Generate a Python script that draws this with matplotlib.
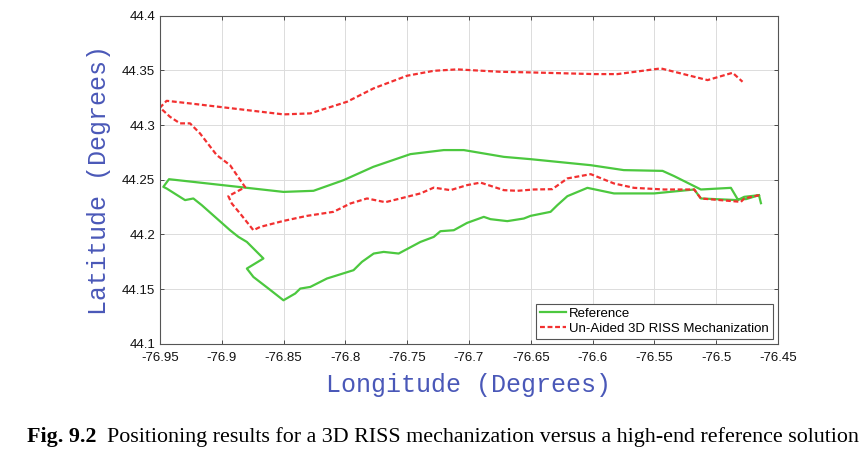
import numpy as np
import matplotlib
matplotlib.use("Agg")
import matplotlib.pyplot as plt
from matplotlib.ticker import FuncFormatter

plt.rcParams['font.family'] = ['Liberation Sans', 'DejaVu Sans']

# Reference trajectory (lon, lat)
ref_lon = [-76.4638, -76.4654, -76.4773, -76.4827, -76.5124, -76.5178, -76.5502, -76.5827,
           -76.6042, -76.6204, -76.6285, -76.6340, -76.6502, -76.6556, -76.6690, -76.6826,
           -76.6880, -76.7015, -76.7123, -76.7231, -76.7285, -76.7393, -76.7569, -76.7690,
           -76.7771, -76.7866, -76.7934, -76.8149, -76.8284, -76.8365, -76.8406, -76.8501,
           -76.8622, -76.8744, -76.8797, -76.8663, -76.8797, -76.8865, -76.8933, -76.9162,
           -76.9230, -76.9297, -76.9446, -76.9473, -76.9427, -76.8827, -76.8501, -76.8258,
           -76.8015, -76.7774, -76.7474, -76.7204, -76.7042, -76.6718, -76.6502, -76.6015,
           -76.5748, -76.5434, -76.5340, -76.5124, -76.4881, -76.4827, -76.4759, -76.4654]
ref_lat = [44.2286, 44.2359, 44.2344, 44.2314, 44.2329, 44.2411, 44.2375, 44.2375,
           44.2426, 44.2350, 44.2268, 44.2207, 44.2170, 44.2146, 44.2122, 44.2140,
           44.2161, 44.2106, 44.2039, 44.2030, 44.1978, 44.1932, 44.1826, 44.1841,
           44.1826, 44.1750, 44.1674, 44.1598, 44.1521, 44.1506, 44.1461, 44.1399,
           44.1506, 44.1612, 44.1689, 44.1781, 44.1932, 44.1978, 44.2039, 44.2268,
           44.2329, 44.2314, 44.2420, 44.2435, 44.2505, 44.2430, 44.2389, 44.2399,
           44.2496, 44.2618, 44.2734, 44.2771, 44.2771, 44.2709, 44.2688, 44.2633,
           44.2588, 44.2581, 44.2533, 44.2411, 44.2426, 44.2323, 44.2323, 44.2359]

# Un-aided 3D RISS solution (lon, lat)
riss_lon = [-76.4652, -76.4773, -76.4800, -76.5124, -76.5178, -76.5421, -76.5665, -76.5827,
            -76.6015, -76.6204, -76.6326, -76.6475, -76.6609, -76.6718, -76.6907, -76.7015,
            -76.7150, -76.7285, -76.7393, -76.7555, -76.7677, -76.7825, -76.7960, -76.8096,
            -76.8311, -76.8501, -76.8690, -76.8744, -76.8852, -76.8919, -76.8947, -76.8811,
            -76.8933, -76.9041, -76.9176, -76.9257, -76.9338, -76.9419, -76.9500, -76.9446,
            -76.9257, -76.8501, -76.8284, -76.7987, -76.7771, -76.7501, -76.7285, -76.7096,
            -76.6745, -76.6528, -76.5989, -76.5799, -76.5448, -76.5070, -76.4867, -76.4787]
riss_lat = [44.2359, 44.2329, 44.2298, 44.2329, 44.2411, 44.2411, 44.2426, 44.2466,
            44.2551, 44.2512, 44.2414, 44.2411, 44.2399, 44.2405, 44.2474, 44.2451,
            44.2405, 44.2428, 44.2375, 44.2329, 44.2295, 44.2329, 44.2283, 44.2207,
            44.2170, 44.2124, 44.2069, 44.2039, 44.2192, 44.2283, 44.2350, 44.2432,
            44.2633, 44.2725, 44.2923, 44.3015, 44.3015, 44.3075, 44.3159, 44.3221,
            44.3197, 44.3097, 44.3106, 44.3212, 44.3335, 44.3450, 44.3495, 44.3508,
            44.3486, 44.3481, 44.3465, 44.3465, 44.3517, 44.3410, 44.3477, 44.3395]

x_ticks = [-76.95, -76.9, -76.85, -76.8, -76.75, -76.7, -76.65, -76.6, -76.55, -76.5, -76.45]
y_ticks = [44.1, 44.15, 44.2, 44.25, 44.3, 44.35, 44.4]

fig = plt.figure(figsize=(8.61, 4.51), dpi=100)
ax = fig.add_axes([0.1858, 0.2373, 0.7178, 0.7283])

ax.plot(ref_lon, ref_lat, color="#4cc83f", lw=1.6, label="Reference")
ax.plot(riss_lon, riss_lat, color="#f23030", lw=1.6, ls=(0, (2.2, 1.2)),
        label="Un-Aided 3D RISS Mechanization")

ax.set_xlim(-76.95, -76.45)
ax.set_ylim(44.1, 44.4)
ax.set_xticks(x_ticks)
ax.set_yticks(y_ticks)
fmt = FuncFormatter(lambda v, p: "%g" % round(v, 3))
ax.xaxis.set_major_formatter(fmt)
ax.yaxis.set_major_formatter(fmt)
ax.tick_params(direction="in", length=3, width=0.6, colors="#333333", labelsize=9.5,
               top=True, right=True, labelcolor="#111111")
ax.tick_params(axis="x", pad=6)
ax.grid(True, color="#dcdcdc", lw=0.7)
for s in ax.spines.values():
    s.set_color("#555555")
    s.set_linewidth(0.8)

mono = {"family": "Liberation Mono", "size": 18, "color": "#4a58b8"}
ax.set_xlabel("Longitude (Degrees)", fontdict=mono, labelpad=6)
ax.set_ylabel("Latitude (Degrees)", fontdict=mono, labelpad=8)

leg = ax.legend(loc="lower right", fontsize=9.5, handlelength=2.0, handletextpad=0.2,
                borderpad=0.3, labelspacing=0.2, fancybox=False, framealpha=1,
                borderaxespad=0.4)
leg.get_frame().set_edgecolor("#555555")
leg.get_frame().set_linewidth(0.8)

t1 = fig.text(0.031, 0.009, "Fig. 9.2", family="Liberation Serif", weight="bold",
              size=15.8, va="bottom")
ax.annotate("  Positioning results for a 3D RISS mechanization versus a high-end reference solution",
            xy=(1, 0), xycoords=t1, va="bottom", ha="left",
            family="Liberation Serif", size=15.8, annotation_clip=False)

fig.savefig("out.png", dpi=100)
